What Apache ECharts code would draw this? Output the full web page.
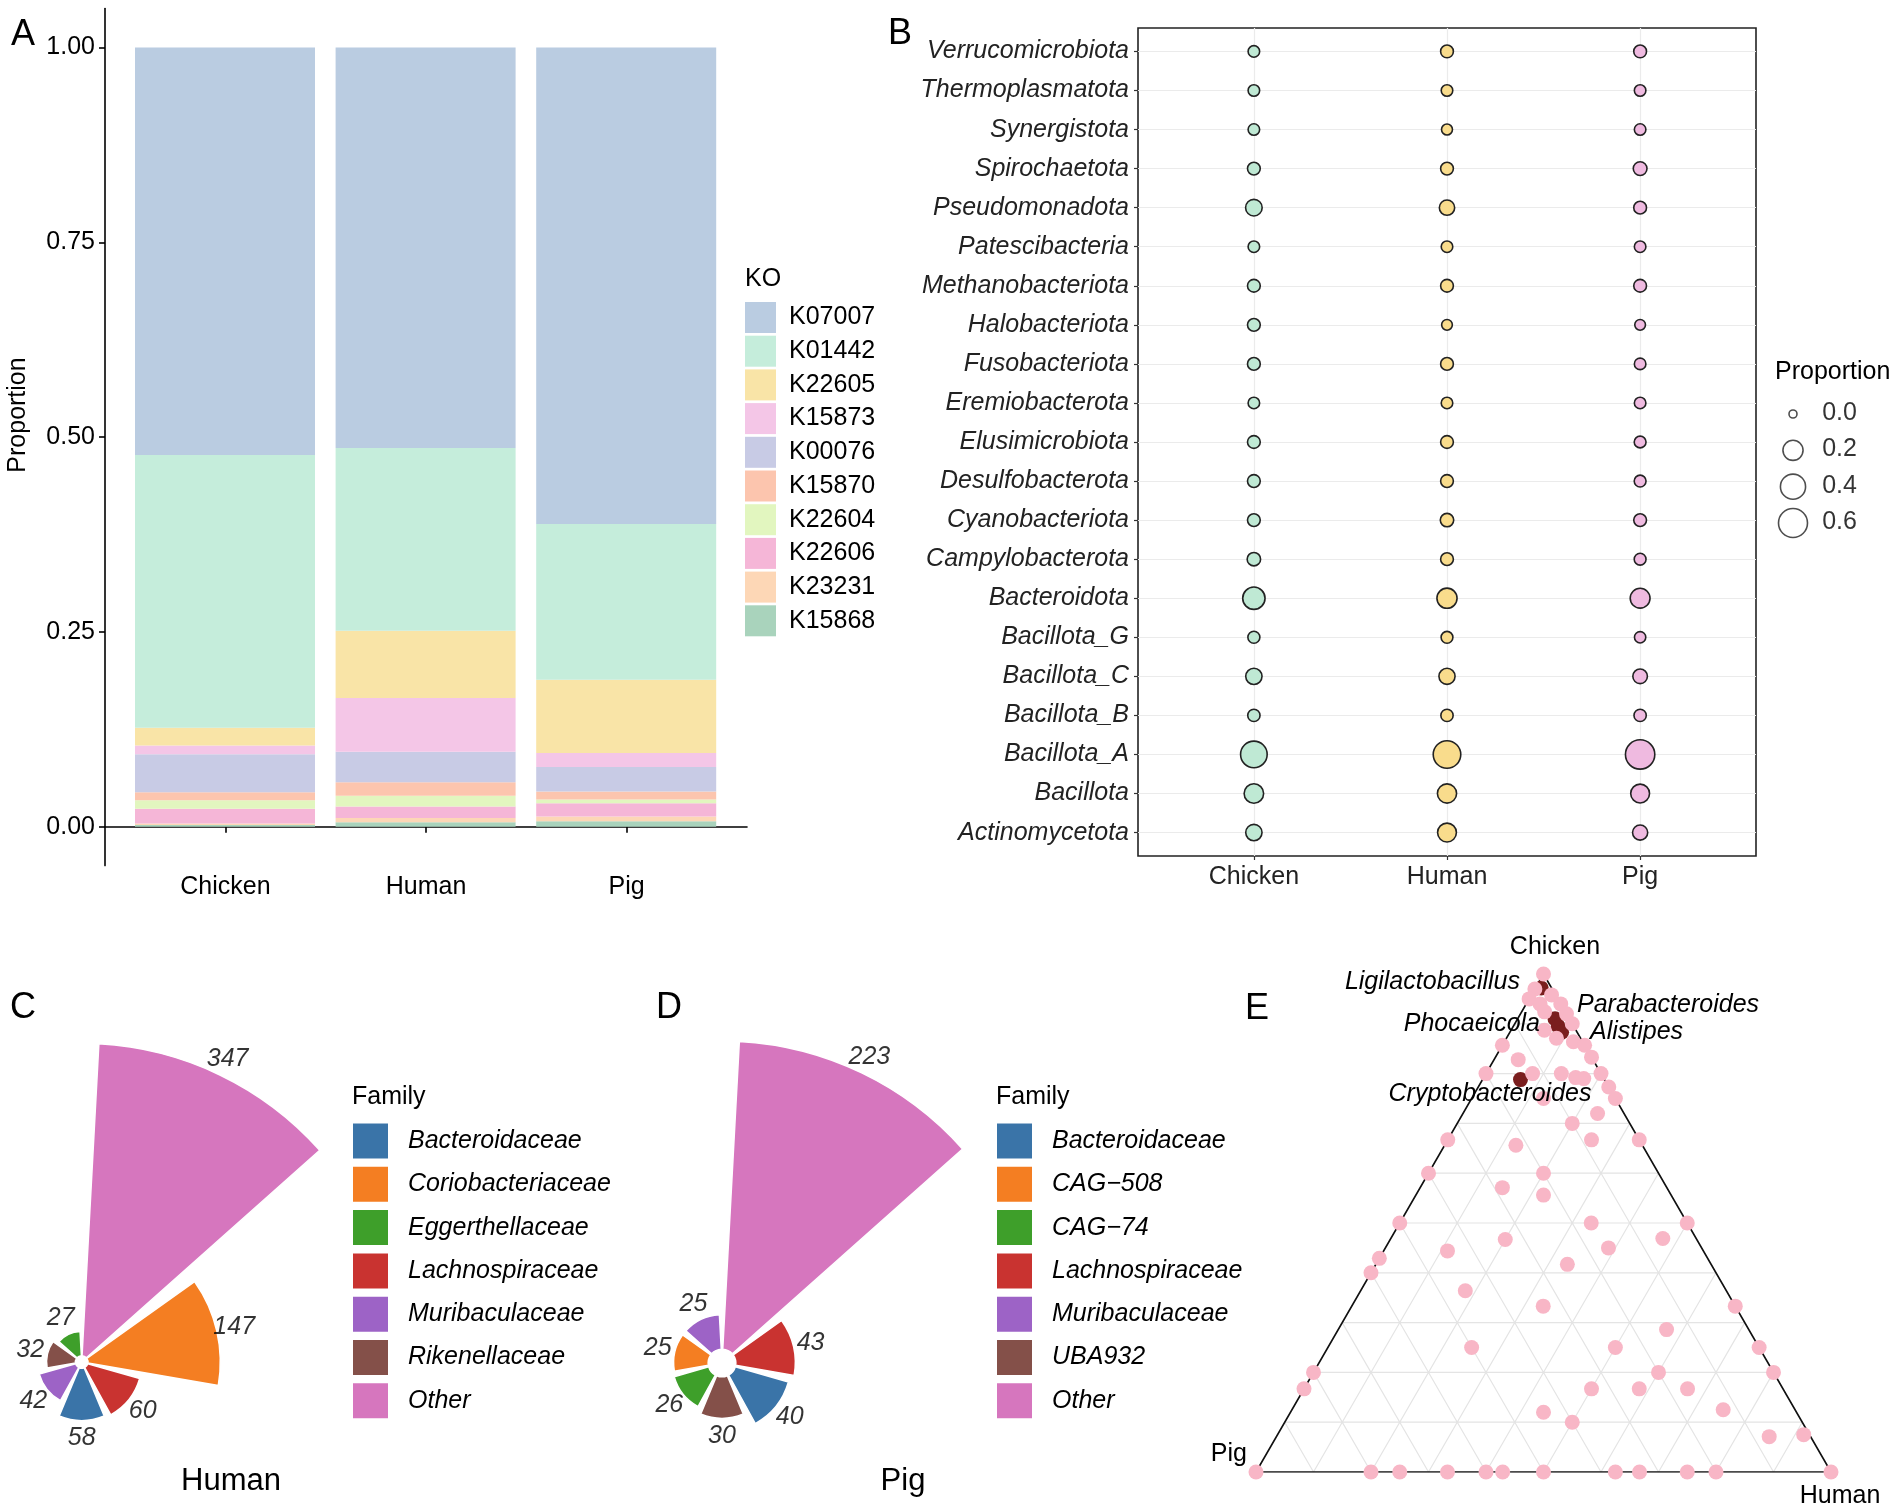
<!DOCTYPE html>
<html><head><meta charset="utf-8">
<script src="https://cdn.jsdelivr.net/npm/echarts@6/dist/echarts.min.js"></script>
<style>html,body{margin:0;padding:0;background:#fff}#c{width:1902px;height:1510px}</style>
</head><body><div id="c"></div>
<script>
// ---------- DATA ----------
const hosts = ['Chicken', 'Human', 'Pig'];

// Panel A: KO proportions (legend order; stacked bottom = last)
const koNames = ['K07007','K01442','K22605','K15873','K00076','K15870','K22604','K22606','K23231','K15868'];
const koChicken = [0.523, 0.350, 0.023, 0.011, 0.049, 0.010, 0.011, 0.019, 0.002, 0.002];
const koHuman   = [0.514, 0.2345, 0.0865, 0.069, 0.039, 0.0175, 0.0137, 0.0146, 0.0056, 0.0056];
const koPig     = [0.6115, 0.200, 0.094, 0.018, 0.0315, 0.010, 0.005, 0.017, 0.006, 0.007];
const koColors  = ['#BACCE1','#C5EDDB','#F9E4A7','#F4C6E7','#C8CBE5','#FCC5AE','#E2F6BF','#F5B6D7','#FDD7B6','#A9D3BC'];
const yTicksA   = [0, 0.25, 0.5, 0.75, 1];

// Panel B: phylum proportions (top to bottom)
const phyla = ['Verrucomicrobiota','Thermoplasmatota','Synergistota','Spirochaetota','Pseudomonadota','Patescibacteria',
  'Methanobacteriota','Halobacteriota','Fusobacteriota','Eremiobacterota','Elusimicrobiota','Desulfobacterota',
  'Cyanobacteriota','Campylobacterota','Bacteroidota','Bacillota_G','Bacillota_C','Bacillota_B','Bacillota_A','Bacillota','Actinomycetota'];
const phylumChicken = [0.017,0.017,0.017,0.031,0.10,0.017,0.031,0.031,0.031,0.017,0.031,0.031,0.031,0.040,0.28,0.022,0.094,0.025,0.47,0.18,0.094];
const phylumHuman   = [0.031,0.017,0.012,0.031,0.073,0.017,0.031,0.010,0.031,0.017,0.031,0.031,0.040,0.031,0.20,0.020,0.090,0.025,0.52,0.17,0.16];
const phylumPig     = [0.031,0.017,0.017,0.045,0.031,0.017,0.031,0.010,0.017,0.017,0.020,0.020,0.031,0.020,0.19,0.015,0.059,0.025,0.62,0.16,0.070];
const hostColors = ['#BFE9D4','#F9DC8C','#EFBAE0'];
const sizeBreaks = [0.0, 0.2, 0.4, 0.6];

// Panels C/D: family counts (plot order, clockwise from top)
const humanFamilies = ['Other','Coriobacteriaceae','Lachnospiraceae','Bacteroidaceae','Muribaculaceae','Rikenellaceae','Eggerthellaceae'];
const humanCounts   = [347, 147, 60, 58, 42, 32, 27];
const humanLegend   = ['Bacteroidaceae','Coriobacteriaceae','Eggerthellaceae','Lachnospiraceae','Muribaculaceae','Rikenellaceae','Other'];
const pigFamilies   = ['Other','Lachnospiraceae','Bacteroidaceae','UBA932','CAG\u221274','CAG\u2212508','Muribaculaceae'];
const pigCounts     = [223, 43, 40, 30, 26, 25, 25];
const pigLegend     = ['Bacteroidaceae','CAG\u2212508','CAG\u221274','Lachnospiraceae','Muribaculaceae','UBA932','Other'];
const familyColors = {
  'Bacteroidaceae':'#3A74A8','Coriobacteriaceae':'#F47E22','Eggerthellaceae':'#3E9F2A','Lachnospiraceae':'#C93330',
  'Muribaculaceae':'#9D63C6','Rikenellaceae':'#845049','Other':'#D676BE',
  'CAG\u2212508':'#F47E22','CAG\u221274':'#3E9F2A','UBA932':'#845049'
};

// Panel E: ternary compositions (chicken, human, pig)
const ternChicken = [0,0,0,0,0,0,0,0,0,0,0,0,
  1,0.97,0.95,0.958,0.94,0.94,0.924,0.92,0.887,0.871,0.9,0.864,0.857,0.833,0.857,0.828,0.8,0.8,0.8,0.792,0.79,0.8,0.773,0.75,0.75,0.72,0.7,
  0.667,0.656,0.667,0.667,0.6,0.6,0.571,0.556,0.5,0.5,0.5,0.467,0.469,0.444,0.45,0.429,0.4,0.417,0.364,0.333,0.333,0.286,0.25,0.25,0.25,
  0.2,0.2,0.2,0.167,0.167,0.167,0.167,0.125,0.12,0.1,0.071,0.075];
const ternHuman = [0,0.2,0.25,0.333,0.4,0.429,0.5,0.625,0.667,0.75,0.8,1,
  0,0,0,0.035,0.024,0.06,0.04,0.08,0.058,0.087,0.1,0.12,0.143,0.167,0,0.042,0,0.081,0.131,0.16,0.175,0.2,0.227,0.25,0.125,0.234,0.2,
  0,0.124,0.25,0.333,0,0.2,0.143,0.222,0,0.333,0.5,0.2,0.473,0.111,0.388,0,0,0.333,0.182,0.333,0.667,0.571,0.25,0.5,0.75,
  0,0.6,0.8,0,0.5,0.583,0.667,0.75,0.44,0.5,0.857,0.915];
const ternPig = ternChicken.map((c, i) => +(1 - c - ternHuman[i]).toFixed(3));
const hlNames   = ['Ligilactobacillus','Parabacteroides','Phocaeicola','Alistipes','Cryptobacteroides'];
const hlChicken = [0.972, 0.910, 0.895, 0.883, 0.788];
const hlHuman   = [0.010, 0.065, 0.078, 0.090, 0.066];
const hlPig     = hlChicken.map((c, i) => +(1 - c - hlHuman[i]).toFixed(3));

// ---------- HELPERS ----------
const FONT = '"Liberation Sans", Arial, Helvetica, sans-serif';
const sizeFn = v => 8 + 21 * Math.sqrt(Math.max(v, 0) / 0.6);
const SQ = Math.sqrt(3) / 2;
const tern = (c, h) => [h + c / 2, c * SQ];
function txt(text, x, y, size, o) {
  o = o || {};
  return { type: 'text', x: x, y: y, rotation: o.rot || 0, z: 100, silent: true,
    style: { text: text, fontSize: size, fontFamily: FONT, fontStyle: o.italic ? 'italic' : 'normal',
      fill: o.color || '#000', align: o.align || 'left', verticalAlign: 'middle' } };
}

const series = [];

// Panel A stacked bars (category data grid, index 4)
const koByHost = [koChicken, koHuman, koPig];
for (let k = koNames.length - 1; k >= 0; k--) {
  series.push({ type: 'bar', name: koNames[k], stack: 'ko', xAxisIndex: 4, yAxisIndex: 4, barWidth: 180,
    silent: true, itemStyle: { color: koColors[k] },
    data: hosts.map((h, i) => koByHost[i][k]) });
}

// Panel B bubbles
const phylumByHost = [phylumChicken, phylumHuman, phylumPig];
hosts.forEach((h, i) => {
  series.push({ type: 'scatter', name: h + '_phylum', xAxisIndex: 1, yAxisIndex: 1, clip: false, silent: true,
    data: phyla.map((p, j) => [i + 1, phyla.length - j, phylumByHost[i][j]]),
    symbolSize: v => sizeFn(v[2]),
    itemStyle: { color: hostColors[i], borderColor: '#222', borderWidth: 1.6, opacity: 1 } });
});
// B size legend
series.push({ type: 'scatter', name: 'sizeLegend', xAxisIndex: 2, yAxisIndex: 2, clip: false, silent: true,
  data: sizeBreaks.map((b, i) => {
    const d = sizeFn(b);
    return { value: [0.5, sizeBreaks.length - 1 - i, b], symbolSize: d,
      label: { show: true, position: [d / 2 + 30, d / 2], align: 'left', verticalAlign: 'middle',
        formatter: b.toFixed(1), fontSize: 25, fontFamily: FONT, color: '#000' } };
  }),
  itemStyle: { color: 'rgba(255,255,255,0)', borderColor: '#222', borderWidth: 1.6 } });

// Panels C / D rose bars
function rose(fams, counts, pIdx, stackName) {
  fams.forEach((f, i) => {
    series.push({ type: 'bar', coordinateSystem: 'polar', polarIndex: pIdx, name: f, stack: stackName,
      barWidth: '88%', silent: true, itemStyle: { color: familyColors[f], borderColor: '#fff', borderWidth: 1.5 },
      data: fams.map((g, j) => (j === i ? counts[i] : '-')) });
  });
  const mx = Math.max.apply(null, counts);
  series.push({ type: 'scatter', coordinateSystem: 'polar', polarIndex: pIdx, name: stackName + '_lbl',
    symbolSize: 1, silent: true, clip: false, itemStyle: { color: 'rgba(0,0,0,0)' },
    data: counts.map((n, i) => [n + 0.057 * mx, i]),
    label: { show: true, position: 'inside', formatter: p => String(counts[p.dataIndex]),
      fontSize: 25, fontStyle: 'italic', fontFamily: FONT, color: '#000' } });
}
rose(humanFamilies, humanCounts, 0, 'human');
rose(pigFamilies, pigCounts, 1, 'pig');

// Panel E ternary grid
const gridSeg = [];
for (let k = 1; k <= 9; k++) {
  const f = k / 10;
  gridSeg.push(tern(f, 0), tern(f, 1 - f), '-');
  gridSeg.push(tern(0, f), tern(1 - f, f), '-');
  gridSeg.push(tern(0, 1 - f), tern(1 - f, 0), '-');
}
series.push({ type: 'line', xAxisIndex: 3, yAxisIndex: 3, data: gridSeg, symbol: 'none', silent: true,
  connectNulls: false, lineStyle: { color: '#E4E4E4', width: 1.2 }, z: 1 });
series.push({ type: 'line', xAxisIndex: 3, yAxisIndex: 3, silent: true, symbol: 'none', z: 2,
  data: [tern(0, 0), tern(0, 1), tern(1, 0), tern(0, 0)], lineStyle: { color: '#111', width: 1.6 } });
series.push({ type: 'scatter', xAxisIndex: 3, yAxisIndex: 3, silent: true, clip: false, symbolSize: 15, z: 3,
  data: hlChicken.map((c, i) => tern(c, hlHuman[i])), itemStyle: { color: '#7A1E1E', opacity: 1 } });
series.push({ type: 'scatter', xAxisIndex: 3, yAxisIndex: 3, silent: true, clip: false, symbolSize: 15, z: 4,
  data: ternChicken.map((c, i) => tern(c, ternHuman[i])), itemStyle: { color: '#F8B6C6', opacity: 1 } });

// ---------- OPTION ----------
const axisTxt = { fontSize: 25, fontFamily: FONT, color: '#000' };
const noAxis = { show: false };
const famLegendText = { fontSize: 25, fontStyle: 'italic', fontFamily: FONT, color: '#000', padding: [0, 0, 0, 14] };
const option = {
  animation: false,
  backgroundColor: '#fff',
  textStyle: { fontFamily: FONT },
  grid: [
    { left: 105, top: 8.6, width: 642, height: 857, outerBoundsMode: 'none' },
    { left: 1138, top: 28, width: 618, height: 828, show: true, borderColor: '#222', borderWidth: 1.6,
      backgroundColor: 'rgba(0,0,0,0)', outerBoundsMode: 'none' },
    { left: 1788, top: 414, width: 10, height: 109, outerBoundsMode: 'none' },
    { left: 1256, top: 974, width: 575, height: 498, outerBoundsMode: 'none' },
    { left: 124.7, top: 8.6, width: 601.8, height: 857, outerBoundsMode: 'none' }
  ],
  xAxis: [
    { gridIndex: 0, type: 'value', min: 0.4, max: 3.6,
      axisLine: { show: true, lineStyle: { color: '#000', width: 1.6 } },
      axisTick: { show: true, customValues: [1, 2, 3], length: 6, lineStyle: { color: '#000', width: 1.6 } },
      axisLabel: Object.assign({ customValues: [1, 2, 3], margin: 9, formatter: v => hosts[Math.round(v) - 1] }, axisTxt),
      splitLine: { show: false } },
    { gridIndex: 1, type: 'value', min: 0.4, max: 3.6,
      axisLine: { show: false },
      axisTick: { show: true, customValues: [1, 2, 3], length: 4, lineStyle: { color: '#333', width: 1.2 } },
      axisLabel: Object.assign({ customValues: [1, 2, 3], margin: 9, formatter: v => hosts[Math.round(v) - 1] }, axisTxt, { color: '#222' }),
      splitLine: { show: true, lineStyle: { color: '#EBEBEB', width: 1.2 } } },
    { gridIndex: 2, type: 'value', min: 0, max: 1, show: false },
    { gridIndex: 3, type: 'value', min: 0, max: 1, show: false },
    { gridIndex: 4, type: 'category', data: hosts, show: false, boundaryGap: true }
  ],
  yAxis: [
    { gridIndex: 0, type: 'value', min: -0.05, max: 1.05,
      axisLine: { show: true, lineStyle: { color: '#000', width: 1.6 } },
      axisTick: { show: true, customValues: yTicksA, length: 6, lineStyle: { color: '#000', width: 1.6 } },
      axisLabel: Object.assign({ customValues: yTicksA, margin: 10, formatter: v => v.toFixed(2) }, axisTxt),
      splitLine: { show: false } },
    { gridIndex: 1, type: 'value', min: 0.4, max: 21.6,
      axisLine: { show: false },
      axisTick: { show: true, customValues: phyla.map((p, i) => i + 1), length: 4, lineStyle: { color: '#333', width: 1.2 } },
      axisLabel: Object.assign({ customValues: phyla.map((p, i) => i + 1), margin: 9, fontStyle: 'italic',
        formatter: v => phyla[phyla.length - Math.round(v)] }, axisTxt, { color: '#222' }),
      splitLine: { show: true, lineStyle: { color: '#EBEBEB', width: 1.2 } } },
    { gridIndex: 2, type: 'value', min: 0, max: 3, show: false },
    { gridIndex: 3, type: 'value', min: 0, max: SQ, show: false },
    { gridIndex: 4, type: 'value', min: -0.05, max: 1.05, show: false }
  ],
  polar: [
    { center: [81.7, 1362], radius: [0, 0.9 * 407] },
    { center: [722, 1363], radius: [0, 1.382 * 270] }
  ],
  angleAxis: [
    { polarIndex: 0, type: 'category', data: humanFamilies, startAngle: 90, clockwise: true,
      axisLine: noAxis, axisTick: noAxis, axisLabel: noAxis, splitLine: noAxis, splitArea: noAxis },
    { polarIndex: 1, type: 'category', data: pigFamilies, startAngle: 90, clockwise: true,
      axisLine: noAxis, axisTick: noAxis, axisLabel: noAxis, splitLine: noAxis, splitArea: noAxis }
  ],
  radiusAxis: [
    { polarIndex: 0, type: 'value', min: -7, max: 400, axisLine: noAxis, axisTick: noAxis, axisLabel: noAxis, splitLine: noAxis, splitArea: noAxis },
    { polarIndex: 1, type: 'value', min: -10, max: 260, axisLine: noAxis, axisTick: noAxis, axisLabel: noAxis, splitLine: noAxis, splitArea: noAxis }
  ],
  legend: [
    { data: koNames, left: 745, top: 302, orient: 'vertical', icon: 'rect', itemWidth: 31, itemHeight: 31, itemGap: 2.7,
      padding: 0, selectedMode: false, textStyle: { fontSize: 25, fontFamily: FONT, color: '#000', padding: [0, 0, 0, 8] } },
    { data: humanLegend, left: 351, top: 1121.5, orient: 'vertical', icon: 'rect', itemWidth: 37, itemHeight: 37, itemGap: 4.3,
      padding: 0, selectedMode: false, textStyle: famLegendText },
    { data: pigLegend, left: 995, top: 1121.5, orient: 'vertical', icon: 'rect', itemWidth: 37, itemHeight: 37, itemGap: 4.3,
      padding: 0, selectedMode: false, textStyle: famLegendText }
  ],
  graphic: [
    txt('A', 23, 35, 36, { align: 'center' }),
    txt('B', 900, 34, 36, { align: 'center' }),
    txt('C', 23, 1008, 36, { align: 'center' }),
    txt('D', 669, 1008, 36, { align: 'center' }),
    txt('E', 1257, 1009, 36, { align: 'center' }),
    txt('Proportion', 18, 415, 25, { align: 'center', rot: Math.PI / 2 }),
    txt('KO', 745, 279, 25),
    txt('Proportion', 1775, 372, 25),
    txt('Family', 352, 1097, 25),
    txt('Family', 996, 1097, 25),
    txt('Human', 231, 1481, 31, { align: 'center' }),
    txt('Pig', 903, 1481, 31, { align: 'center' }),
    txt('Chicken', 1555, 947, 25, { align: 'center' }),
    txt('Pig', 1247, 1454, 25, { align: 'right' }),
    txt('Human', 1840, 1496, 25, { align: 'center' }),
    txt(hlNames[0], 1520, 982, 25, { align: 'right', italic: true }),
    txt(hlNames[1], 1577, 1005, 25, { italic: true }),
    txt(hlNames[2], 1540, 1024, 25, { align: 'right', italic: true }),
    txt(hlNames[3], 1590, 1032, 25, { italic: true }),
    txt(hlNames[4], 1490, 1094, 25, { align: 'center', italic: true })
  ],
  series: series
};
const chart = echarts.init(document.getElementById('c'));
chart.setOption(option);
</script>
</body></html>
